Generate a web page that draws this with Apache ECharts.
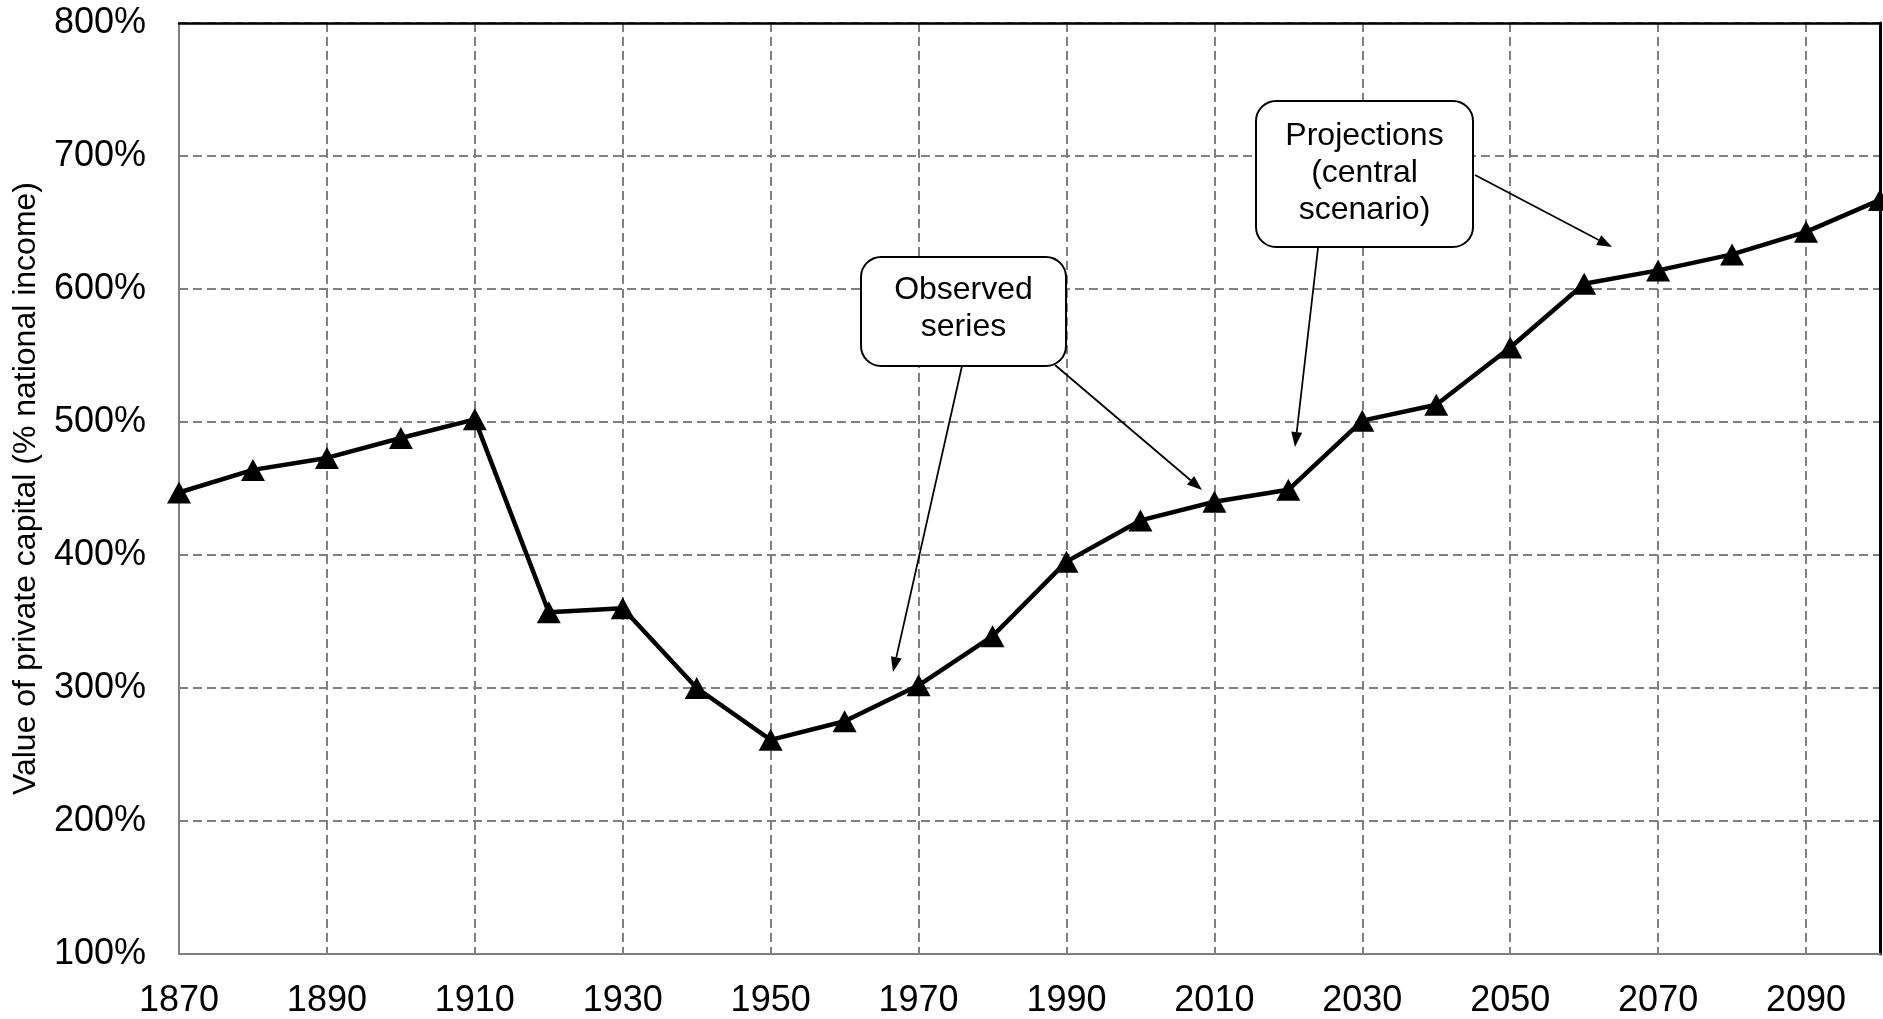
<!DOCTYPE html>
<html>
<head>
<meta charset="utf-8">
<script src="https://cdn.jsdelivr.net/npm/echarts@6/dist/echarts.min.js"></script>
<style>
html,body{margin:0;padding:0;background:#fff;}
#chart{width:1883px;height:1019px;}
</style>
</head>
<body>
<div id="chart"></div>
<script>
// ---- data ----
const years = [1870,1880,1890,1900,1910,1920,1930,1940,1950,1960,1970,1980,1990,2000,2010,2020,2030,2040,2050,2060,2070,2080,2090,2100];
const capitalShare = [447,464,473,488,502,357,360,300,261,275,302,339,395,426,440,449,501,513,556,604,614,626,643,667];
const yTicks = [100,200,300,400,500,600,700,800];
const xTickStep = 20;
const yAxisTitle = 'Value of private capital (% national income)';
const noteObserved = 'Observed\nseries';
const noteProjections = 'Projections\n(central\nscenario)';

const FONT = '"Liberation Sans", Arial, Helvetica, sans-serif';
const chart = echarts.init(document.getElementById('chart'), null, {renderer:'canvas'});

function arrow(x1, y1, x2, y2) {
  const L = 15, W = 5.5;
  const dx = x2 - x1, dy = y2 - y1, d = Math.sqrt(dx*dx + dy*dy);
  const ux = dx/d, uy = dy/d;
  const bx = x2 - ux*L, by = y2 - uy*L;
  return [
    {type:'line', shape:{x1:x1, y1:y1, x2:bx, y2:by}, style:{stroke:'#000', lineWidth:1.75}, z:100},
    {type:'polygon', shape:{points:[[x2,y2],[bx - uy*W, by + ux*W],[bx + uy*W, by - ux*W]]}, style:{fill:'#000'}, z:100}
  ];
}
function box(x, y, w, h, text, ty) {
  return [
    {type:'rect', shape:{x:x, y:y, width:w, height:h, r:20}, style:{fill:'#fff', stroke:'#000', lineWidth:2}, z:101},
    {type:'text', x:x + w/2, y:ty, style:{text:text, font:'32px ' + FONT, lineHeight:37, fill:'#000', align:'center', verticalAlign:'middle'}, z:102}
  ];
}

const graphics = [].concat(
  arrow(962, 366, 893, 672),
  arrow(1055, 365, 1202, 490),
  arrow(1475, 175, 1612, 247),
  arrow(1318, 248, 1295, 447),
  box(861, 257, 205, 109, noteObserved, 309),
  box(1256, 101, 217, 146, noteProjections, 173)
);

const option = {
  animation: false,
  backgroundColor: '#fff',
  grid: {left:179, right:3, top:23, bottom:65, containLabel:false},
  xAxis: [{
    type:'value', min:1870, max:2100, interval:xTickStep,
    axisLine:{show:true, onZero:false, lineStyle:{color:'#808080', width:2}},
    axisTick:{show:false},
    axisLabel:{color:'#000', fontSize:36, fontFamily:FONT, margin:29, showMaxLabel:false,
      formatter: v => ((v - 1870) % xTickStep === 0 ? String(v) : '')},
    splitLine:{show:true, lineStyle:{color:'#808080', width:2, type:[9,5]}}
  },{
    type:'value', position:'top', min:1870, max:2100,
    axisLine:{show:true, onZero:false, lineStyle:{color:'#000', width:2.5}},
    axisTick:{show:false}, axisLabel:{show:false}, splitLine:{show:false}
  }],
  yAxis: [{
    type:'value', min:yTicks[0], max:yTicks[yTicks.length-1], interval:100,
    name: yAxisTitle, nameLocation:'middle', nameGap:137,
    nameTextStyle:{color:'#000', fontSize:32, fontFamily:FONT},
    axisLine:{show:true, onZero:false, lineStyle:{color:'#808080', width:2}},
    axisTick:{show:false},
    axisLabel:{color:'#000', fontSize:36, fontFamily:FONT, margin:33, padding:[5,0,0,0], formatter:'{value}%'},
    splitLine:{show:true, lineStyle:{color:'#808080', width:2, type:[9,5]}}
  },{
    type:'value', position:'right', min:yTicks[0], max:yTicks[yTicks.length-1],
    axisLine:{show:true, onZero:false, lineStyle:{color:'#000', width:3}},
    axisTick:{show:false}, axisLabel:{show:false}, splitLine:{show:false}
  }],
  series: [{
    type:'line',
    data: years.map((y, i) => [y, capitalShare[i]]),
    lineStyle:{color:'#000', width:4.5},
    itemStyle:{color:'#000'},
    symbol:'triangle', symbolSize:[24,22], showAllSymbol:true,
    clip:false, z:10
  }],
  graphic: graphics
};
chart.setOption(option);
</script>
</body>
</html>
